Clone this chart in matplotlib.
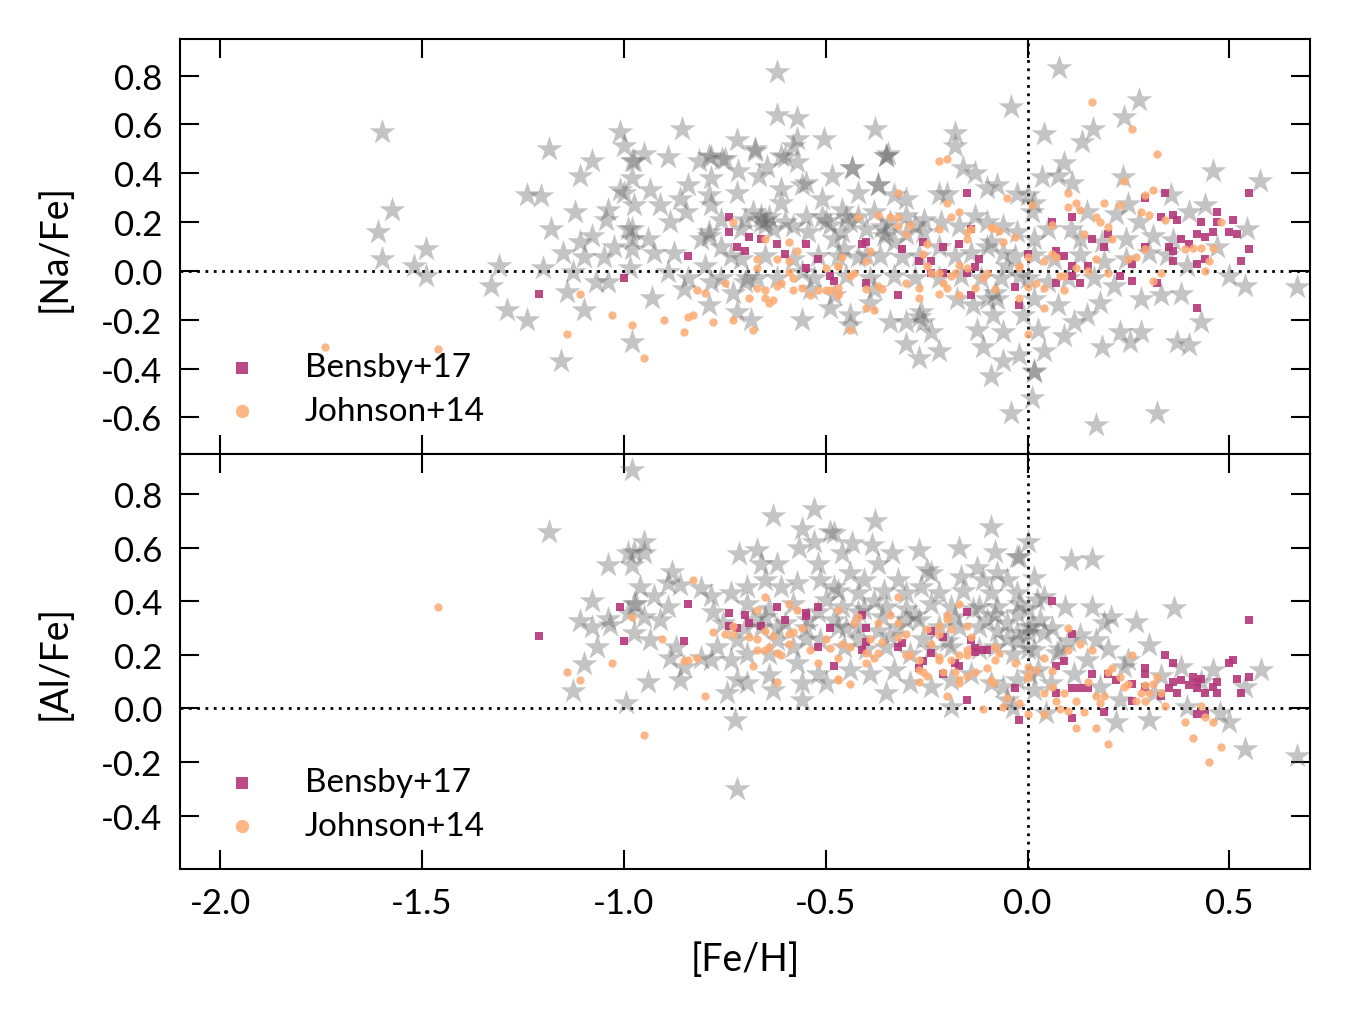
import numpy as np
import matplotlib
matplotlib.use("Agg")
import matplotlib.pyplot as plt

plt.rcParams["font.family"] = ["Lato", "DejaVu Sans"]
plt.rcParams["axes.unicode_minus"] = False

# [Fe/H], [Na/Fe] for the grey comparison sample
na_stars = [
    (-1.60,0.57),(-1.575,0.25),(-1.61,0.16),(-1.60,0.05),(-1.49,0.09),(-1.52,0.02),(-1.49,-0.02),(-1.31,0.02),
    (-1.33,-0.06),(-1.29,-0.16),(-1.24,-0.20),(-1.155,-0.37),(-1.24,0.31),(-1.205,0.305),(-1.185,0.50),(-1.11,0.39),
    (-1.08,0.45),(-1.01,0.57),(-1.00,0.51),(-0.98,0.45),(-0.98,0.38),(-1.01,0.33),(-1.12,0.24),(-1.18,0.17),
    (-1.04,0.25),(-1.045,0.21),(-1.08,0.145),(-1.11,0.12),(-1.15,0.075),(-1.10,0.055),(-1.05,0.055),(-1.025,0.10),
    (-0.99,0.17),(-0.98,0.13),(-0.98,0.09),(-0.985,0.01),(-1.20,0.01),(-1.125,-0.005),(-1.07,-0.045),(-1.04,-0.045),
    (-1.14,-0.085),(-1.10,-0.16),(-0.98,-0.29),
    (-0.62,0.815),(-0.62,0.64),(-0.57,0.625),(-0.855,0.58),(-0.505,0.54),(-0.72,0.535),(-0.675,0.50),(-0.57,0.54),
    (-0.58,0.51),(-0.975,0.45),(-0.95,0.48),(-0.89,0.465),(-0.815,0.45),(-0.785,0.465),(-0.757,0.46),(-0.717,0.41),
    (-0.645,0.425),(-0.60,0.465),(-0.484,0.39),(-0.935,0.33),(-0.785,0.38),(-0.84,0.35),(-0.55,0.36),(-1.00,0.32),
    (-0.975,0.27),(-0.91,0.27),(-0.86,0.295),(-0.79,0.31),(-0.72,0.32),(-0.61,0.28),(-0.51,0.295),(-0.65,0.21),
    (-0.66,0.20),(-0.64,0.22),(-0.65,0.19),(-0.50,0.205),(-0.49,0.19),(-0.51,0.22),(-0.98,0.17),(-0.94,0.13),
    (-0.885,0.20),(-0.845,0.24),(-0.81,0.13),(-0.79,0.145),(-0.76,0.21),(-0.71,0.17),(-0.68,0.24),(-0.63,0.17),
    (-0.58,0.185),(-0.545,0.16),(-0.48,0.13),(-0.925,0.075),(-0.875,0.075),(-0.735,0.06),(-0.65,0.06),(-0.52,0.06),
    (-0.89,-0.005),(-0.84,-0.03),(-0.80,0.02),(-0.76,-0.03),(-0.695,-0.03),(-0.67,-0.03),(-0.62,-0.03),(-0.56,-0.005),
    (-0.53,-0.03),(-0.93,-0.11),(-0.85,-0.075),(-0.79,-0.14),(-0.72,-0.17),(-0.685,-0.20),(-0.73,-0.09),(-0.56,-0.20),
    (-0.49,-0.15),
    (-0.79,0.47),(-0.75,0.46),(-0.675,0.49),(-0.61,0.47),(-0.57,0.445),(-0.435,0.42),(-0.35,0.47),(-0.665,0.39),
    (-0.61,0.335),(-0.56,0.35),(-0.37,0.35),(-0.785,0.27),(-0.66,0.225),(-0.355,0.145),(-0.79,0.16),(-0.76,0.10),
    (-0.71,0.05),(-0.58,0.05),(-0.455,0.09),(-0.40,0.065),(-0.33,0.12),(-0.785,-0.045),(-0.70,-0.045),(-0.54,-0.075),
    (-0.38,-0.075),(-0.60,0.20),(-0.55,0.22),(-0.45,0.22),(-0.70,0.21),
    (-0.04,0.67),(-0.377,0.58),(-0.18,0.565),(-0.18,0.51),(-0.345,0.48),(-0.35,0.47),(-0.435,0.42),(-0.16,0.42),
    (-0.13,0.40),(-0.37,0.35),(-0.075,0.35),(-0.10,0.34),(-0.22,0.315),(-0.20,0.315),(-0.025,0.315),(-0.30,0.295),
    (-0.42,0.32),(-0.33,0.31),(-0.46,0.25),(-0.42,0.22),(-0.38,0.24),(-0.34,0.20),(-0.30,0.225),(-0.257,0.21),
    (-0.215,0.20),(-0.46,0.16),(-0.40,0.17),(-0.35,0.16),(-0.30,0.15),(-0.26,0.16),(-0.22,0.10),(-0.17,0.185),
    (-0.13,0.225),(-0.10,0.20),(-0.06,0.185),(-0.025,0.16),(0.01,0.24),(-0.47,0.06),(-0.42,0.055),(-0.365,0.06),
    (-0.31,0.055),(-0.27,0.06),(-0.18,0.06),(-0.14,0.075),(-0.10,0.10),(-0.06,0.075),(-0.03,0.06),(-0.45,-0.02),
    (-0.39,-0.03),(-0.33,-0.02),(-0.28,-0.03),(-0.22,-0.03),(-0.165,-0.02),(-0.115,-0.03),(-0.065,-0.03),(-0.02,-0.02),
    (-0.48,-0.10),(-0.44,-0.18),(-0.44,-0.22),(-0.39,-0.13),(-0.34,-0.21),(-0.30,-0.21),(-0.265,-0.17),(-0.26,-0.21),
    (-0.24,-0.25),(-0.30,-0.30),(-0.27,-0.355),(-0.22,-0.33),(-0.175,-0.115),(-0.135,-0.14),(-0.10,-0.115),(-0.075,-0.115),
    (-0.085,-0.18),(-0.125,-0.24),(-0.11,-0.31),(-0.06,-0.25),(-0.06,-0.37),(-0.09,-0.43),(-0.02,-0.345),(0.01,-0.52),
    (-0.04,-0.58),(0.015,-0.415),(-0.01,-0.18),(-0.44,0.20),(-0.36,0.18),(-0.28,0.19),(-0.09,0.12),(-0.08,-0.09),
    (-0.27,-0.19),(-0.05,0.02),
    (0.078,0.83),(0.276,0.70),(0.24,0.63),(0.163,0.58),(0.04,0.56),(0.135,0.53),(0.09,0.44),(0.075,0.39),
    (0.035,0.385),(0.11,0.36),(0.237,0.385),(0.46,0.41),(0.575,0.37),(0.545,0.17),(0.44,0.27),(0.40,0.24),
    (0.355,0.31),(0.25,0.275),(0.22,0.235),(0.148,0.24),(0.107,0.17),(0.05,0.17),(0.015,0.13),(0.0,0.31),
    (0.015,0.28),(0.276,0.20),(0.31,0.145),(0.245,0.13),(0.185,0.12),(0.13,0.13),(0.47,0.10),(0.36,0.125),
    (0.015,0.065),(0.065,0.05),(0.13,0.065),(0.19,0.035),(0.245,0.05),(0.30,0.075),(0.345,0.065),(0.395,0.02),
    (0.50,-0.02),(0.54,-0.06),(0.668,-0.065),(0.0,-0.03),(0.05,-0.045),(0.10,-0.03),(0.165,-0.03),(0.215,-0.06),
    (0.28,-0.115),(0.33,-0.10),(0.38,-0.095),(0.015,-0.115),(0.075,-0.14),(0.148,-0.18),(0.115,-0.21),(0.09,-0.265),
    (0.025,-0.24),(0.23,-0.25),(0.28,-0.25),(0.255,-0.29),(0.185,-0.31),(0.37,-0.29),(0.40,-0.305),(0.43,-0.21),
    (0.04,-0.33),(0.015,-0.41),(0.17,-0.63),(0.32,-0.58),(0.18,-0.13),
]

na_bensby = [
    (-1.21,-0.095),(-1.00,-0.03),(-0.84,0.06),(-0.74,0.22),(-0.74,0.16),(-0.72,0.10),(-0.70,0.08),(-0.69,0.14),
    (-0.66,0.13),(-0.62,0.11),(-0.60,0.07),(-0.55,0.11),(-0.55,0.01),(-0.52,0.05),(-0.49,-0.02),(-0.48,-0.04),
    (-0.15,0.32),(-0.41,0.11),(-0.40,0.12),(-0.31,0.09),(-0.26,0.12),(-0.21,0.10),(-0.17,0.11),(-0.27,0.04),
    (-0.24,0.04),(-0.12,0.05),(-0.14,0.17),(-0.13,0.015),(-0.24,-0.01),(-0.21,-0.01),(-0.15,-0.01),(-0.40,-0.05),
    (-0.32,-0.10),(-0.14,-0.10),(-0.03,-0.065),(-0.02,-0.14),(0.00,0.07),
    (0.34,0.32),(0.55,0.32),(0.29,0.30),(0.47,0.24),(0.33,0.22),(0.36,0.23),(0.37,0.21),(0.43,0.20),
    (0.47,0.20),(0.51,0.21),(0.06,0.20),(0.11,0.22),(0.42,0.15),(0.44,0.14),(0.46,0.16),(0.50,0.16),
    (0.52,0.15),(0.16,0.13),(0.20,0.15),(0.38,0.13),(0.40,0.11),(0.19,0.10),(0.29,0.10),(0.35,0.10),
    (0.36,0.08),(0.55,0.09),(0.07,0.08),(0.09,0.06),(0.44,0.05),(0.36,0.04),(0.53,0.04),(0.42,0.03),
    (0.26,0.03),(0.11,0.02),(0.15,0.02),(0.23,-0.02),(0.26,-0.04),(0.07,-0.05),(0.13,-0.05),(0.32,-0.05),
    (0.42,-0.15),(0.11,-0.02),
]

na_johnson = [
    (-1.74,-0.31),(-1.46,-0.32),(-1.11,-0.095),(-1.14,-0.26),(-1.03,-0.18),(-0.98,-0.22),(-0.95,-0.355),(-0.90,-0.20),
    (-0.85,-0.25),(-0.84,-0.19),(-0.83,-0.18),(-0.82,-0.08),(-0.80,-0.09),(-0.78,-0.21),(-0.75,-0.05),(-0.73,-0.20),
    (-0.73,0.20),(-0.69,-0.11),(-0.68,-0.24),(-0.67,0.05),(-0.67,0.01),(-0.67,-0.07),(-0.65,0.13),(-0.65,-0.08),
    (-0.65,-0.11),(-0.64,-0.13),(-0.63,-0.12),(-0.62,0.05),(-0.62,-0.06),(-0.61,-0.05),(-0.59,0.12),(-0.59,0.04),
    (-0.59,-0.005),(-0.58,-0.03),(-0.58,-0.08),(-0.57,0.08),(-0.56,-0.07),(-0.54,-0.10),(-0.52,-0.08),(-0.50,0.01),
    (-0.50,-0.08),(-0.49,-0.08),(-0.47,0.02),(-0.47,-0.09),
    (-0.22,0.45),(-0.20,0.46),(-0.32,0.32),(-0.20,0.28),(-0.17,0.24),(-0.19,0.22),(-0.05,0.30),(-0.42,0.22),
    (-0.37,0.23),(-0.34,0.22),(-0.32,0.22),(-0.32,0.185),(-0.29,0.19),(-0.30,0.15),(-0.22,0.17),(-0.39,0.08),
    (-0.46,0.055),(-0.40,0.04),(-0.47,0.02),(-0.43,-0.01),(-0.44,-0.02),(-0.47,-0.07),(-0.47,-0.10),(-0.40,-0.075),
    (-0.37,-0.06),(-0.36,-0.075),(-0.40,-0.15),(-0.38,-0.16),(-0.44,-0.24),(-0.26,0.07),(-0.25,0.11),(-0.25,0.02),
    (-0.24,-0.01),(-0.22,-0.01),(-0.30,-0.05),(-0.27,-0.07),(-0.27,-0.11),(-0.22,-0.095),(-0.21,-0.05),(-0.20,-0.07),
    (-0.19,-0.02),(-0.18,-0.01),(-0.17,0.025),(-0.17,-0.10),(-0.15,0.01),(-0.15,0.13),(-0.15,0.16),(-0.14,0.17),
    (-0.13,-0.07),(-0.11,-0.03),(-0.10,-0.01),(-0.09,0.18),(-0.085,0.175),(-0.07,0.165),(-0.06,0.12),(-0.03,0.14),
    (-0.08,-0.075),(-0.02,0.02),(-0.02,-0.11),(0.00,0.055),(0.00,-0.065),(0.00,-0.26),(0.02,-0.05),
    (0.16,0.69),(0.26,0.58),(0.32,0.48),(0.24,0.37),(0.10,0.32),(0.01,0.27),(0.10,0.26),(0.12,0.28),
    (0.13,0.25),(0.19,0.28),(0.23,0.27),(0.29,0.31),(0.31,0.33),(0.28,0.24),(0.30,0.23),(0.17,0.22),
    (0.18,0.20),(0.06,0.19),(0.20,0.18),(0.14,0.15),(0.21,0.13),(0.34,0.21),(0.48,0.20),(0.06,0.07),
    (0.07,0.055),(0.04,0.04),(0.17,0.05),(0.12,0.01),(0.15,0.0),(0.08,-0.02),(0.09,-0.02),(0.20,-0.01),
    (0.04,-0.07),(0.09,-0.08),(0.04,-0.15),(0.25,0.05),(0.27,0.055),(0.29,0.09),(0.31,-0.04),(0.33,-0.01),
    (0.39,0.09),(0.41,0.095),(0.43,0.095),(0.46,0.095),(0.45,0.04),(0.44,0.0),(-0.02,0.015),
]

# [Fe/H], [Al/Fe]
al_stars = [
    (-1.185,0.657),(-0.98,0.89),(-0.99,0.58),(-0.98,0.535),(-1.04,0.535),(-1.08,0.40),(-1.11,0.325),(-1.08,0.305),
    (-1.04,0.335),(-1.035,0.31),(-0.975,0.28),(-0.975,0.39),(-1.066,0.23),(-1.10,0.165),(-1.125,0.066),(-0.996,0.02),
    (-0.63,0.72),(-0.53,0.745),(-0.56,0.67),(-0.49,0.66),(-0.53,0.62),(-0.565,0.60),(-0.67,0.59),(-0.715,0.575),
    (-0.62,0.54),(-0.95,0.62),(-0.975,0.585),(-0.95,0.58),(-0.88,0.51),(-0.66,0.54),(-0.52,0.54),(-0.81,0.45),
    (-0.86,0.46),(-0.89,0.47),(-0.96,0.455),(-0.925,0.42),(-0.97,0.39),(-0.89,0.38),(-0.99,0.355),(-0.95,0.34),
    (-0.91,0.33),(-0.935,0.255),(-0.87,0.23),(-0.885,0.19),(-0.85,0.155),(-0.86,0.106),(-0.94,0.10),(-0.81,0.19),
    (-0.785,0.18),(-0.77,0.23),(-0.755,0.32),(-0.785,0.42),(-0.735,0.43),(-0.695,0.455),(-0.65,0.48),(-0.61,0.455),
    (-0.57,0.47),(-0.515,0.48),(-0.48,0.455),(-0.695,0.39),(-0.64,0.37),(-0.58,0.39),(-0.50,0.405),(-0.545,0.33),
    (-0.66,0.305),(-0.72,0.255),(-0.62,0.255),(-0.58,0.23),(-0.515,0.255),(-0.695,0.205),(-0.735,0.18),(-0.64,0.205),
    (-0.57,0.17),(-0.52,0.13),(-0.72,0.106),(-0.64,0.125),(-0.63,0.07),(-0.745,0.056),(-0.695,0.093),(-0.56,0.093),
    (-0.56,0.03),(-0.725,-0.044),(-0.72,-0.30),(-0.50,0.093),(-0.65,0.34),(-0.60,0.32),(-0.55,0.30),(-0.52,0.36),
    (-0.48,0.33),(-0.68,0.33),(-0.78,0.36),(-0.70,0.30),(-0.62,0.30),(-0.55,0.26),
    (-0.377,0.70),(-0.09,0.677),(-0.48,0.654),(-0.435,0.617),(-0.385,0.61),(-0.335,0.58),(-0.27,0.59),(-0.17,0.598),
    (-0.08,0.583),(-0.025,0.567),(0.0,0.62),(-0.46,0.58),(-0.37,0.54),(-0.25,0.517),(-0.24,0.505),(-0.125,0.523),
    (-0.075,0.505),(-0.05,0.48),(0.016,0.486),(-0.44,0.505),(-0.405,0.48),(-0.32,0.48),(-0.166,0.49),(-0.11,0.48),
    (-0.47,0.44),(-0.42,0.43),(-0.356,0.44),(-0.30,0.43),(-0.265,0.455),(-0.22,0.43),(-0.16,0.44),(-0.09,0.43),
    (-0.025,0.43),(0.024,0.405),(-0.46,0.38),(-0.405,0.37),(-0.35,0.38),(-0.30,0.37),(-0.24,0.39),(-0.19,0.38),
    (-0.135,0.37),(-0.075,0.38),(-0.025,0.355),(0.0,0.37),(-0.47,0.305),(-0.42,0.305),(-0.37,0.29),(-0.32,0.305),
    (-0.27,0.33),(-0.22,0.305),(-0.17,0.305),(-0.12,0.305),(-0.075,0.29),(-0.025,0.28),(0.01,0.305),(-0.455,0.23),
    (-0.40,0.22),(-0.35,0.23),(-0.29,0.205),(-0.24,0.22),(-0.19,0.23),(-0.12,0.22),(-0.08,0.23),(-0.035,0.205),
    (0.0,0.22),(-0.44,0.143),(-0.39,0.13),(-0.33,0.143),(-0.29,0.093),(-0.24,0.08),(-0.19,0.106),(-0.14,0.13),
    (-0.09,0.093),(-0.06,0.08),(-0.025,0.106),(0.025,0.143),(0.016,0.068),(-0.35,0.056),(-0.19,0.006),(-0.05,0.03),
    (-0.035,0.0),(-0.42,0.36),(-0.36,0.34),(-0.28,0.35),(-0.10,0.33),(-0.05,0.32),(-0.02,0.25),
    (-0.45,0.30),(-0.38,0.40),(-0.30,0.33),(-0.20,0.25),(-0.12,0.38),(-0.05,0.26),(0.03,0.33),(0.08,0.22),
    (-0.42,0.26),(-0.34,0.27),(-0.26,0.26),(-0.18,0.34),(-0.08,0.35),(0.0,0.28),
    (-0.02,0.567),(0.107,0.555),(0.16,0.557),(0.364,0.374),(0.04,0.417),(-0.02,0.39),(0.094,0.38),(0.16,0.38),
    (0.206,0.343),(0.19,0.318),(0.27,0.324),(0.0,0.305),(0.04,0.28),(0.13,0.274),(0.17,0.255),(0.30,0.237),
    (0.016,0.218),(0.074,0.206),(0.148,0.18),(0.24,0.156),(0.38,0.156),(0.46,0.143),(0.578,0.143),(0.54,0.08),
    (0.007,0.13),(0.057,0.093),(0.115,0.13),(0.18,0.08),(0.23,0.03),(0.313,0.056),(0.395,0.006),(0.478,-0.019),
    (0.22,-0.05),(0.30,-0.044),(0.50,-0.05),(0.045,-0.019),(0.54,-0.15),(0.668,-0.178),(0.06,0.30),(0.10,0.25),
    (0.20,0.22),(0.25,0.18),(0.33,0.12),(0.43,0.10),
]

al_bensby = [
    (-1.21,0.27),(-1.01,0.38),(-1.00,0.25),(-0.84,0.39),(-0.85,0.25),(-0.74,0.357),(-0.74,0.308),(-0.72,0.30),
    (-0.70,0.35),(-0.69,0.318),(-0.66,0.308),(-0.62,0.378),(-0.60,0.33),(-0.55,0.357),(-0.55,0.345),(-0.52,0.378),
    (-0.49,0.30),(-0.52,0.228),(-0.48,0.158),
    (-0.15,0.36),(-0.41,0.347),(-0.40,0.30),(-0.40,0.247),(-0.41,0.218),(-0.31,0.245),(-0.32,0.23),(-0.24,0.29),
    (-0.21,0.268),(-0.14,0.255),(-0.13,0.227),(-0.13,0.21),(-0.11,0.218),(-0.10,0.218),(-0.24,0.208),(-0.26,0.177),
    (-0.27,0.15),(-0.18,0.168),(-0.17,0.158),(-0.21,0.127),(-0.15,0.03),(-0.03,0.077),(-0.02,-0.044),
    (0.06,0.40),(0.55,0.33),(0.11,0.277),(0.34,0.20),(0.36,0.168),(0.50,0.17),(0.51,0.18),(0.07,0.158),
    (0.09,0.178),(0.16,0.128),(0.20,0.13),(0.29,0.15),(0.29,0.128),(0.22,0.106),(0.41,0.118),(0.36,0.10),
    (0.38,0.106),(0.42,0.10),(0.43,0.108),(0.47,0.098),(0.52,0.108),(0.55,0.118),(0.26,0.09),(0.40,0.087),
    (0.46,0.081),(0.11,0.077),(0.13,0.077),(0.15,0.077),(0.35,0.077),(0.29,0.081),(0.42,0.077),(0.07,0.056),
    (0.33,0.046),(0.37,0.056),(0.44,0.056),(0.47,0.056),(0.53,0.059),(0.26,0.029),(0.19,-0.012),(0.42,-0.022),
    (0.44,-0.022),(0.11,-0.035),
]

al_johnson = [
    (-1.46,0.38),(-1.14,0.137),(-1.11,0.106),(-1.03,0.168),(-0.98,0.34),
    (-0.83,0.48),(-0.905,0.26),(-0.85,0.177),(-0.84,0.18),(-0.82,0.19),(-0.80,0.047),(-0.95,-0.10),(-0.78,0.287),
    (-0.75,0.277),(-0.73,0.308),(-0.73,0.277),(-0.69,0.268),(-0.68,0.158),(-0.67,0.367),(-0.67,0.26),(-0.67,0.218),
    (-0.65,0.417),(-0.65,0.29),(-0.65,0.218),(-0.64,0.23),(-0.63,0.27),(-0.62,0.208),(-0.61,0.20),(-0.62,0.098),
    (-0.59,0.39),(-0.59,0.277),(-0.58,0.287),(-0.59,0.24),(-0.57,0.367),(-0.56,0.30),(-0.54,0.218),(-0.52,0.168),
    (-0.50,0.26),(-0.49,0.227),(-0.47,0.367),(-0.47,0.187),(-0.47,0.106),
    (-0.32,0.417),(-0.17,0.39),(-0.42,0.34),(-0.43,0.318),(-0.34,0.347),(-0.37,0.318),(-0.32,0.318),(-0.20,0.347),
    (-0.20,0.335),(-0.22,0.308),(-0.25,0.296),(-0.19,0.296),(-0.15,0.308),(-0.39,0.26),(-0.36,0.247),(-0.30,0.278),
    (-0.32,0.268),(-0.22,0.278),(-0.14,0.268),(-0.46,0.24),(-0.44,0.23),(-0.40,0.208),(-0.37,0.208),(-0.38,0.19),
    (-0.40,0.168),(-0.30,0.20),(-0.29,0.20),(-0.24,0.24),(-0.22,0.193),(-0.22,0.18),(-0.19,0.18),(-0.17,0.20),
    (-0.15,0.218),(-0.15,0.20),(-0.27,0.18),(-0.27,0.143),(-0.26,0.137),(-0.25,0.12),(-0.27,0.10),(-0.21,0.137),
    (-0.18,0.137),(-0.17,0.106),(-0.17,0.095),(-0.15,0.12),(-0.13,0.137),(-0.10,0.15),(-0.09,0.106),(-0.085,0.093),
    (-0.08,0.18),(-0.08,0.23),(-0.07,0.208),(-0.47,0.108),(-0.44,0.09),(-0.20,0.047),(-0.11,-0.003),(-0.06,0.004),
    (-0.05,0.037),(-0.03,0.168),(-0.02,0.019),(0.0,0.155),(0.0,0.115),(0.0,-0.022),(0.02,0.143),
    (0.10,0.30),(0.13,0.24),(0.10,0.218),(0.16,0.218),(0.04,0.19),(0.06,0.14),(0.0,0.126),(0.26,0.20),
    (0.21,0.15),(0.20,0.137),(0.23,0.118),(0.32,0.118),(0.15,0.098),(0.06,0.079),(0.25,0.09),(0.24,0.08),
    (0.29,0.087),(0.31,0.09),(0.04,0.059),(0.09,0.059),(0.28,0.059),(0.30,0.057),(0.33,0.059),(0.17,0.047),
    (0.19,0.047),(0.07,0.029),(0.12,0.029),(0.27,0.029),(0.29,0.029),(0.18,0.019),(0.34,0.01),(0.08,-0.003),
    (0.10,-0.009),(0.14,-0.012),(0.43,0.01),(0.04,-0.022),(0.44,-0.031),(0.39,-0.052),(0.46,-0.052),(0.12,-0.072),
    (0.17,-0.072),(0.41,-0.11),(0.20,-0.133),(0.48,-0.143),(0.45,-0.20),
]

star_color = "#646464"
bensby_color = "#b5367a"
johnson_color = "#fdab72"

fig, axes = plt.subplots(2, 1, figsize=(13.5, 10.2), dpi=100, sharex=True)
fig.subplots_adjust(left=0.1333, right=0.9704, top=0.9608, bottom=0.147, hspace=0)

panels = [
    (axes[0], na_stars, na_bensby, na_johnson, "[Na/Fe]", (-0.75, 0.95), np.arange(-0.6, 0.81, 0.2)),
    (axes[1], al_stars, al_bensby, al_johnson, "[Al/Fe]", (-0.6, 0.95), np.arange(-0.4, 0.81, 0.2)),
]

for ax, stars, bensby, johnson, ylab, ylim, yticks in panels:
    sx, sy = zip(*stars)
    bx, by = zip(*bensby)
    jx, jy = zip(*johnson)
    ax.scatter(sx, sy, marker="*", s=380, color=star_color, alpha=0.38, linewidths=0, zorder=2)
    ax.scatter(bx, by, marker="s", s=32, color=bensby_color, alpha=0.9, linewidths=0, zorder=3,
               label="Bensby+17")
    ax.scatter(jx, jy, marker="o", s=36, color=johnson_color, alpha=0.85, linewidths=0, zorder=4,
               label="Johnson+14")
    ax.axhline(0, color="black", ls=(0, (1, 2)), lw=2, zorder=1)
    ax.axvline(0, color="black", ls=(0, (1, 2)), lw=2, zorder=1)
    ax.set_xlim(-2.1, 0.7)
    ax.set_ylim(*ylim)
    ax.set_yticks(yticks)
    ax.set_yticklabels(["%.1f" % t for t in yticks])
    ax.set_ylabel(ylab, fontsize=27, labelpad=20)
    ax.tick_params(direction="in", length=14, width=1.5, top=True, right=True,
                   labelsize=25, pad=13)
    for sp in ax.spines.values():
        sp.set_linewidth(1.5)
    ax.legend(loc="lower left", frameon=False, fontsize=24, markerscale=1.6,
              handletextpad=0.9, borderaxespad=0.45, labelspacing=0.4)

xt = np.arange(-2.0, 0.51, 0.5)
axes[1].set_xticks(xt)
axes[1].set_xticklabels(["%.1f" % t for t in xt])
axes[1].set_xlabel("[Fe/H]", fontsize=27, labelpad=16)

fig.savefig("out.png", dpi=100)
